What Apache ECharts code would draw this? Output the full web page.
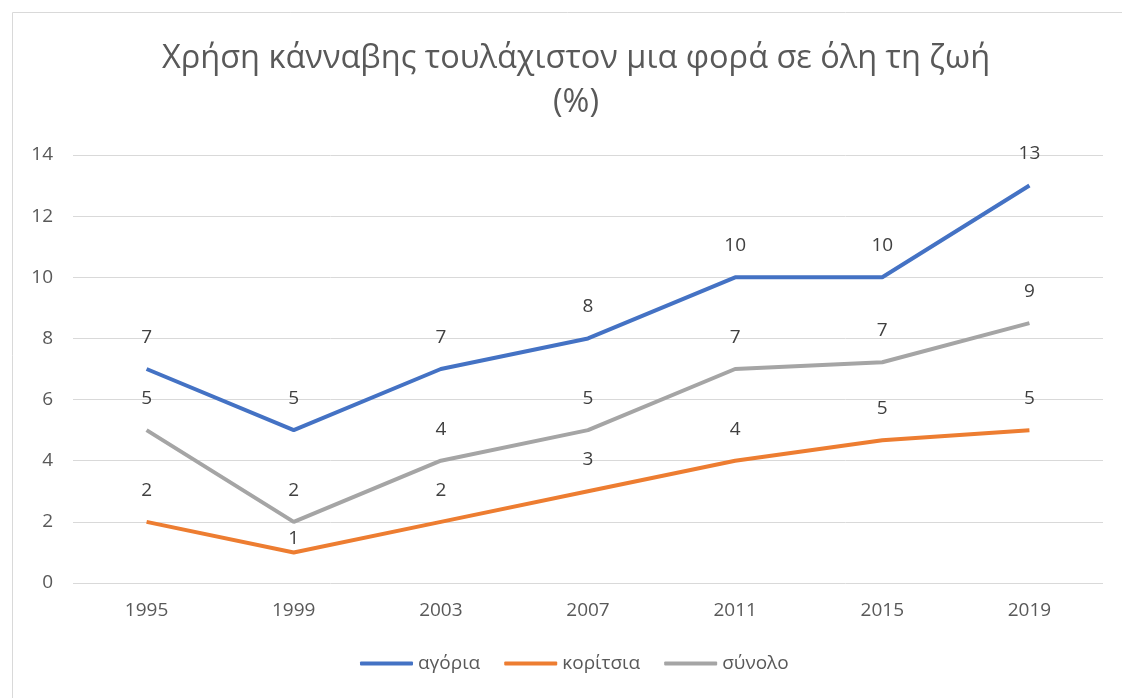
<!DOCTYPE html>
<html><head><meta charset="utf-8">
<script src="https://cdn.jsdelivr.net/npm/echarts@6/dist/echarts.min.js"></script>
<style>html,body{margin:0;padding:0;background:#fff}#c{width:1122px;height:698px}</style>
</head><body><div id="c"></div>
<script>
const years = ['1995','1999','2003','2007','2011','2015','2019'];
const boys = [7, 5, 7, 8, 10, 10, 13];
const girls = [2, 1, 2, 3, 4, 4.67, 5];
const total = [5, 2, 4, 5, 7, 7.22, 8.5];
const yTicks = {min: 0, max: 14, interval: 2};

const chart = echarts.init(document.getElementById('c'));
const lab = {show: true, position: 'top', distance: 22, color: '#404040', fontSize: 19,
  fontFamily: 'Open Sans', formatter: p => Math.round(p.value)};
function s(name, data, color, tweak) {
  const d = data.map((v, i) => (tweak && tweak[i]) ? {value: v, label: tweak[i]} : v);
  return {name, type: 'line', data: d, symbol: 'circle', symbolSize: 0, showSymbol: true,
    lineStyle: {width: 4, color}, itemStyle: {color}, label: lab, z: 3, emphasis: {disabled: true}};
}
chart.setOption({
  animation: false,
  graphic: [{type: 'rect', shape: {x: 12.5, y: 12.5, width: 1120, height: 700},
    style: {fill: 'none', stroke: '#d9d9d9', lineWidth: 1}}],
  title: {text: 'Χρήση κάνναβης τουλάχιστον μια φορά σε όλη τη ζωή\n(%)', left: 571, top: 32,
    textAlign: 'center',
    textStyle: {fontFamily: 'Open Sans', fontWeight: 'normal', fontSize: 32.5, color: '#595959', lineHeight: 44}},
  grid: {left: 73, right: 19, top: 155, bottom: 115},
  legend: {top: 649, left: 355, itemWidth: 53, itemHeight: 4, itemGap: 24,
    icon: 'roundRect',
    textStyle: {color: '#595959', fontSize: 19, fontFamily: 'Open Sans'},
    data: ['αγόρια', 'κορίτσια', 'σύνολο']},
  xAxis: {type: 'category', data: years, boundaryGap: true,
    axisLine: {show: false}, axisTick: {show: false},
    axisLabel: {color: '#595959', fontSize: 19, margin: 18, fontFamily: 'Open Sans'}},
  yAxis: {type: 'value', min: yTicks.min, max: yTicks.max, interval: yTicks.interval,
    axisLine: {show: false}, axisTick: {show: false},
    axisLabel: {color: '#595959', fontSize: 19, margin: 20, fontFamily: 'Open Sans'},
    splitLine: {lineStyle: {color: '#d9d9d9', width: 1}}},
  series: [
    s('αγόρια', boys, '#4472C4'),
    s('κορίτσια', girls, '#ED7D31', {1: {distance: 4}}),
    s('σύνολο', total, '#A5A5A5')]
});
</script></body></html>
